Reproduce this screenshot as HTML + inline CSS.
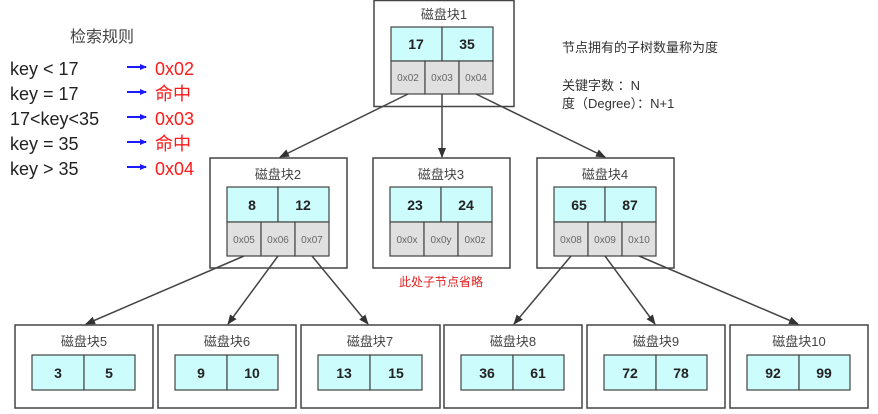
<!DOCTYPE html>
<html><head><meta charset="utf-8"><style>
body{margin:0;background:#fff;}
svg{display:block;font-family:"Liberation Sans","Noto Sans CJK SC",sans-serif;}
</style></head><body>
<svg width="878" height="414" viewBox="0 0 878 414" xmlns="http://www.w3.org/2000/svg">
<defs><marker id="a" markerWidth="10" markerHeight="8" refX="9" refY="4" orient="auto" markerUnits="userSpaceOnUse"><path d="M0,0 L10,4 L0,8 z" fill="#333"/></marker>
<marker id="b" markerWidth="7" markerHeight="6" refX="6" refY="3" orient="auto" markerUnits="userSpaceOnUse"><path d="M0,0 L7,3 L0,6 z" fill="#1a1aff"/></marker></defs>
<g fill="none" stroke="#444" stroke-width="1.5">
<rect x="374" y="0.5" width="140" height="106"/>
<rect x="210" y="158" width="137" height="110"/>
<rect x="373" y="158" width="137" height="110"/>
<rect x="537" y="158" width="137" height="110"/>
<rect x="15" y="325" width="138" height="83"/>
<rect x="158" y="325" width="138" height="83"/>
<rect x="301" y="325" width="139" height="83"/>
<rect x="444" y="325" width="138" height="83"/>
<rect x="587" y="325" width="138" height="83"/>
<rect x="730" y="325" width="138" height="83"/>
</g>
<g stroke="#444" stroke-width="1.5" marker-end="url(#a)">
<line x1="408" y1="94" x2="280" y2="157"/>
<line x1="442" y1="94" x2="442" y2="157"/>
<line x1="476" y1="94" x2="605" y2="157"/>
<line x1="244" y1="256" x2="86" y2="324"/>
<line x1="278" y1="256" x2="228" y2="324"/>
<line x1="312" y1="256" x2="368" y2="324"/>
<line x1="571" y1="256" x2="514" y2="324"/>
<line x1="605" y1="256" x2="655" y2="324"/>
<line x1="639" y1="256" x2="798" y2="324"/>
</g>
<g stroke="#444" stroke-width="1.2">
<rect x="391" y="27" width="51" height="34" fill="#ccfcfc"/><rect x="442" y="27" width="51" height="34" fill="#ccfcfc"/>
<rect x="391" y="61" width="34" height="33" fill="#e0e0e0"/><rect x="425" y="61" width="34" height="33" fill="#e0e0e0"/><rect x="459" y="61" width="34" height="33" fill="#e0e0e0"/>
<rect x="227" y="187" width="51" height="35" fill="#ccfcfc"/><rect x="278" y="187" width="51" height="35" fill="#ccfcfc"/>
<rect x="227" y="222" width="34" height="34" fill="#e0e0e0"/><rect x="261" y="222" width="34" height="34" fill="#e0e0e0"/><rect x="295" y="222" width="34" height="34" fill="#e0e0e0"/>
<rect x="390" y="187" width="51" height="35" fill="#ccfcfc"/><rect x="441" y="187" width="51" height="35" fill="#ccfcfc"/>
<rect x="390" y="222" width="34" height="34" fill="#e0e0e0"/><rect x="424" y="222" width="34" height="34" fill="#e0e0e0"/><rect x="458" y="222" width="34" height="34" fill="#e0e0e0"/>
<rect x="554" y="187" width="51" height="35" fill="#ccfcfc"/><rect x="605" y="187" width="51" height="35" fill="#ccfcfc"/>
<rect x="554" y="222" width="34" height="34" fill="#e0e0e0"/><rect x="588" y="222" width="34" height="34" fill="#e0e0e0"/><rect x="622" y="222" width="34" height="34" fill="#e0e0e0"/>
<g fill="#ccfcfc">
<rect x="32" y="355" width="52" height="35"/><rect x="84" y="355" width="51" height="35"/>
<rect x="175" y="355" width="52" height="35"/><rect x="227" y="355" width="51" height="35"/>
<rect x="318" y="355" width="52" height="35"/><rect x="370" y="355" width="52" height="35"/>
<rect x="461" y="355" width="52" height="35"/><rect x="513" y="355" width="51" height="35"/>
<rect x="604" y="355" width="52" height="35"/><rect x="656" y="355" width="51" height="35"/>
<rect x="747" y="355" width="52" height="35"/><rect x="799" y="355" width="51" height="35"/>
</g></g>
<g font-size="13" fill="#444" text-anchor="middle">
<text x="444" y="19">磁盘块1</text><text x="278" y="179">磁盘块2</text><text x="441" y="179">磁盘块3</text><text x="605" y="179">磁盘块4</text>
<text x="84" y="346">磁盘块5</text><text x="227" y="346">磁盘块6</text><text x="370" y="346">磁盘块7</text><text x="513" y="346">磁盘块8</text><text x="656" y="346">磁盘块9</text><text x="799" y="346">磁盘块10</text>
</g>
<g font-size="14" font-weight="bold" fill="#222" text-anchor="middle">
<text x="416" y="49">17</text><text x="467" y="49">35</text>
<text x="252" y="210">8</text><text x="303" y="210">12</text>
<text x="415" y="210">23</text><text x="466" y="210">24</text>
<text x="579" y="210">65</text><text x="630" y="210">87</text>
<text x="58" y="378">3</text><text x="109" y="378">5</text>
<text x="201" y="378">9</text><text x="252" y="378">10</text>
<text x="344" y="378">13</text><text x="396" y="378">15</text>
<text x="487" y="378">36</text><text x="538" y="378">61</text>
<text x="630" y="378">72</text><text x="681" y="378">78</text>
<text x="773" y="378">92</text><text x="824" y="378">99</text>
</g>
<g font-size="10" fill="#666" text-anchor="middle">
<text x="408" y="81">0x02</text><text x="442" y="81">0x03</text><text x="476" y="81">0x04</text>
<text x="244" y="243">0x05</text><text x="278" y="243">0x06</text><text x="312" y="243">0x07</text>
<text x="407" y="243">0x0x</text><text x="441" y="243">0x0y</text><text x="475" y="243">0x0z</text>
<text x="571" y="243">0x08</text><text x="605" y="243">0x09</text><text x="639" y="243">0x10</text>
</g>
<text x="441" y="286" font-size="12" fill="#e02020" text-anchor="middle">此处子节点省略</text>
<g font-size="13" fill="#333">
<text x="562" y="52">节点拥有的子树数量称为度</text>
<text x="562" y="90">关键字数 ：N</text>
<text x="562" y="108">度（Degree）：N+1</text>
</g>
<text x="70" y="42" font-size="16" fill="#444">检索规则</text>
<g font-size="18" fill="#222">
<text x="10" y="75">key &lt; 17</text>
<text x="10" y="100">key = 17</text>
<text x="10" y="125">17&lt;key&lt;35</text>
<text x="10" y="150">key = 35</text>
<text x="10" y="175">key &gt; 35</text>
</g>
<g stroke="#1a1aff" stroke-width="2" marker-end="url(#b)">
<line x1="127" y1="67" x2="146" y2="67"/>
<line x1="127" y1="92" x2="146" y2="92"/>
<line x1="127" y1="117" x2="146" y2="117"/>
<line x1="127" y1="142" x2="146" y2="142"/>
<line x1="127" y1="167" x2="146" y2="167"/>
</g>
<g font-size="18" fill="#ff1a1a">
<text x="155" y="75">0x02</text><text x="155" y="100">命中</text><text x="155" y="125">0x03</text><text x="155" y="150">命中</text><text x="155" y="175">0x04</text>
</g>
</svg>
</body></html>
